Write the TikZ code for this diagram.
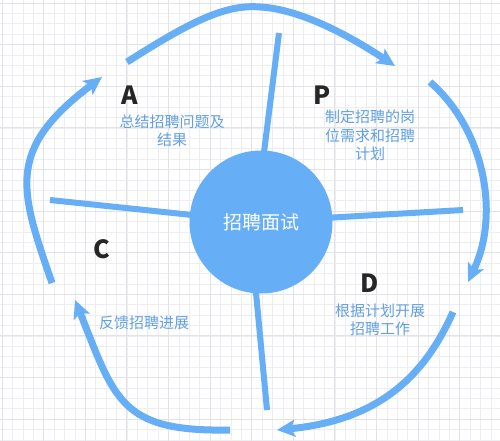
\documentclass[tikz,border=0pt]{standalone}
\usepackage{fontspec}
\newfontfamily\cjk{Noto Sans CJK SC}
\usetikzlibrary{arrows.meta}
\definecolor{arrblue}{RGB}{102,174,245}
\definecolor{txtblue}{RGB}{98,160,225}
\definecolor{gridminor}{RGB}{238,238,242}
\definecolor{gridmajor}{RGB}{226,226,232}
\tikzset{
  cyc/.style={draw=arrblue, line width=7pt, -{Stealth[length=18pt,width=17pt,inset=4pt]}},
  spoke/.style={draw=arrblue, line width=6pt},
  letter/.style={font=\cjk\bfseries\fontsize{25}{25}\selectfont, text=black!85},
  desc/.style={font=\cjk\fontsize{15}{18.5}\selectfont, text=txtblue, align=center, inner sep=0pt}
}
\begin{document}
\begin{tikzpicture}[x=1pt,y=-1pt]
\useasboundingbox (0,0) rectangle (500,441);
\fill[white] (0,0) rectangle (500,441);
\foreach \i in {0,...,48} {
  \draw[gridminor, line width=0.6pt] (\i*10.4+2,0) -- (\i*10.4+2,441);
}
\foreach \j in {0,...,43} {
  \draw[gridminor, line width=0.6pt] (0,\j*10.4+3) -- (500,\j*10.4+3);
}
\foreach \i in {0,...,12} {
  \draw[gridmajor, line width=0.8pt] (\i*41.6+2,0) -- (\i*41.6+2,441);
}
\foreach \j in {0,...,11} {
  \draw[gridmajor, line width=0.8pt] (0,\j*41.6+3) -- (500,\j*41.6+3);
}

% spoke end points
\coordinate (st1) at (279,33);
\coordinate (se1) at (258,200);
\coordinate (st2) at (50,200);
\coordinate (se2) at (230,219);
\coordinate (st3) at (463,210);
\coordinate (se3) at (290,220);
\coordinate (st4) at (267,410);
\coordinate (se4) at (252,250);
\draw[spoke] (st1) -- (se1);
\draw[spoke] (st2) -- (se2);
\draw[spoke] (st3) -- (se3);
\draw[spoke] (st4) -- (se4);

\node[circle, fill=arrblue, minimum size=143pt, inner sep=0pt,
      font=\cjk\fontsize{19}{19}\selectfont, text=white] (core) at (261,222) {招聘面试};

% cycle arrows
\coordinate (a1s) at (127,62);
\coordinate (a1m) at (260,7);
\coordinate (a1e) at (395,66);
\coordinate (a2s) at (430,82);
\coordinate (a2e) at (468,282);
\coordinate (a3s) at (453,312);
\coordinate (a3e) at (277,430);
\coordinate (a4s) at (230,430);
\coordinate (a4e) at (75,300);
\coordinate (a5s) at (52,283);
\coordinate (a5e) at (102,77);
\draw[cyc] (a1s) .. controls (190,22) and (225,4) .. (a1m) .. controls (300,9) and (350,36) .. (a1e);
\draw[cyc] (a2s) .. controls (485,130) and (500,215) .. (a2e);
\draw[cyc] (a3s) .. controls (425,375) and (380,420) .. (a3e);
\draw[cyc] (a4s) .. controls (120,432) and (115,400) .. (a4e);
\draw[cyc] (a5s) .. controls (20,190) and (5,150) .. (a5e);

% labels
\node[letter] (lA) at (130,95) {A};
\node[desc] (dA) at (172,131) {总结招聘问题及\\结果};
\node[letter] (lP) at (322,95) {P};
\node[desc] (dP) at (370,135.5) {制定招聘的岗\\位需求和招聘\\计划};
\node[letter] (lC) at (102,249) {C};
\node[desc] (dC) at (144,323) {反馈招聘进展};
\node[letter] (lD) at (370,283) {D};
\node[desc] (dD) at (380,320) {根据计划开展\\招聘工作};
\end{tikzpicture}
\end{document}
